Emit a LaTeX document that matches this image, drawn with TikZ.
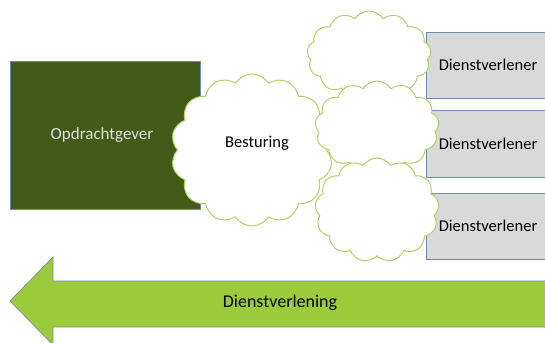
\documentclass[tikz,border=0pt]{standalone}
\usepackage{fontspec}
\setmainfont{Carlito}
\usetikzlibrary{shapes.symbols}
\definecolor{darkolive}{HTML}{435A19}
\definecolor{boxline}{HTML}{6F8CAE}
\definecolor{greyfill}{HTML}{D9D9D9}
\definecolor{cloudline}{HTML}{B2D267}
\definecolor{arrowfill}{HTML}{9BCB3B}
\tikzset{
  txt/.style={font=\fontsize{16.5}{18}\selectfont},
  ownerbox/.style={draw=boxline, fill=darkolive, line width=0.8pt},
  providerbox/.style={draw=boxline, fill=greyfill, line width=0.8pt},
  cloudy/.style={cloud, cloud puffs=13, cloud puff arc=115, draw=cloudline, fill=white, line width=1pt, inner sep=0pt},
  bigarrow/.style={draw=boxline, fill=arrowfill, line width=0.6pt}
}
\begin{document}
\begin{tikzpicture}[x=1pt,y=-1pt]
\useasboundingbox (0,0) rectangle (545,342);
\clip (0,0) rectangle (545,342);
% arrow
\draw[bigarrow] (10,301) -- (53,257) -- (53,281) -- (560,281) -- (560,327) -- (53,327) -- (53,345) -- cycle;
\node[txt, font=\fontsize{18}{20}\selectfont, text=black] (dv) at (280,303) {Dienstverlening};
% owner box
\node[ownerbox, minimum width=190pt, minimum height=148pt, anchor=north west] (og) at (10,61) {};
\node[txt, font=\fontsize{17}{19}\selectfont, text=white!88!black] (ogt) at (102,135) {Opdrachtgever};
% provider boxes
\node[providerbox, minimum width=130pt, minimum height=66pt, anchor=north west] (p1) at (426,32) {};
\node[providerbox, minimum width=130pt, minimum height=67pt, anchor=north west] (p2) at (426,110) {};
\node[providerbox, minimum width=130pt, minimum height=66pt, anchor=north west] (p3) at (426,193) {};
% clouds
\node[cloudy, cloud puffs=14, minimum width=162pt, minimum height=152pt] (bc) at (252,150) {};
\node[txt] (bct) at (257,143) {Besturing};
\node[cloudy, minimum width=124pt, minimum height=88pt] (c1) at (369,55) {};
\node[cloudy, minimum width=124pt, minimum height=92pt] (c2) at (377,127) {};
\node[cloudy, minimum width=124pt, minimum height=104pt] (c3) at (377,210) {};
% provider texts
\node[txt] (p1t) at (488,65) {Dienstverlener};
\node[txt] (p2t) at (488,144) {Dienstverlener};
\node[txt] (p3t) at (488,226) {Dienstverlener};
\end{tikzpicture}
\end{document}
